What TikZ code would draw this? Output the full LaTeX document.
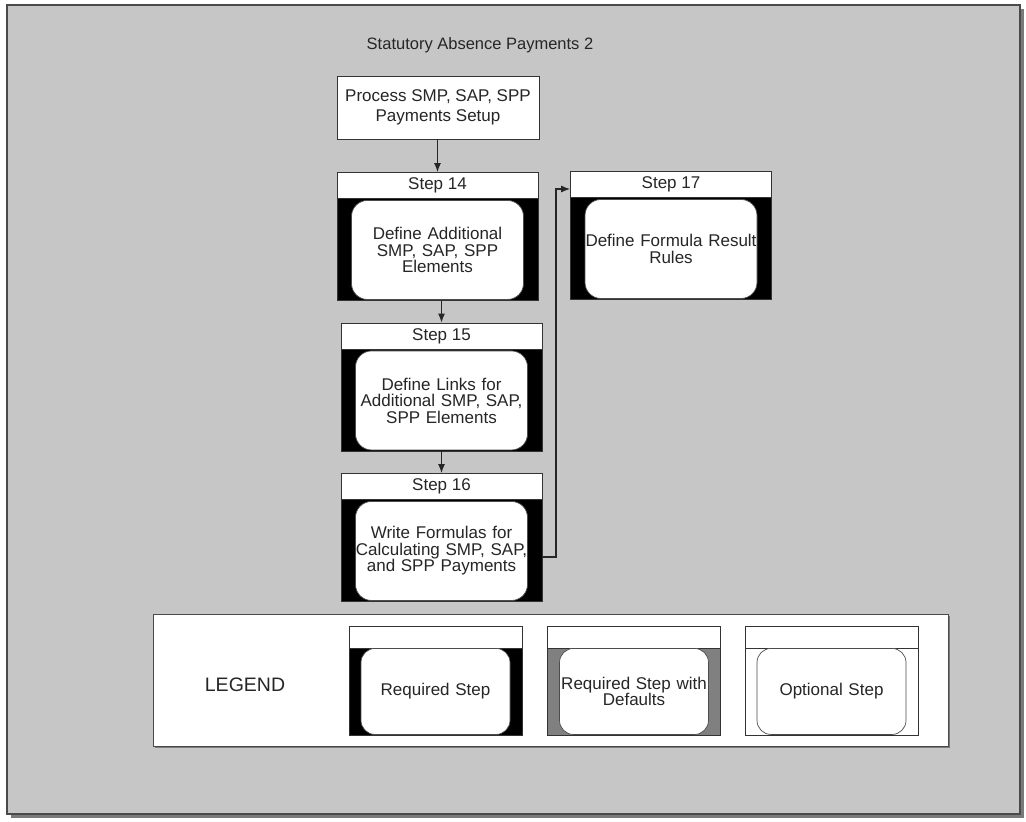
\documentclass[tikz,border=0pt]{standalone}
\usepackage{fontspec}
\setmainfont{Liberation Sans}
\usetikzlibrary{arrows.meta}
\definecolor{panel}{HTML}{C6C6C6}
\definecolor{shadowc}{HTML}{7A7A7A}
\definecolor{framec}{HTML}{4A4A4A}
\definecolor{defgray}{HTML}{808080}
\tikzset{
  txt/.style={font=\fontsize{17}{16.5}\selectfont, text=black!85},
  outerbox/.style={draw=black!80, line width=0.8pt, inner sep=0pt},
  headbox/.style={draw=black!80, fill=white, line width=0.8pt, inner sep=0pt, txt},
  bodybox/.style={draw=black!70, fill=white, rounded corners=16pt, line width=0.7pt, inner sep=0pt, align=center, txt},
  main/.style={minimum width=201pt, minimum height=128pt},
  mainhead/.style={minimum width=201pt, minimum height=26pt},
  mainbody/.style={minimum width=172pt, minimum height=99pt, text width=172pt},
  leg/.style={minimum width=173pt, minimum height=109pt},
  leghead/.style={minimum width=173pt, minimum height=22pt},
  legbody/.style={minimum width=149pt, minimum height=86pt, text width=149pt, rounded corners=14pt},
  arr/.style={-{Latex[length=9pt,width=7pt]}, line width=1.1pt, draw=black!85},
}
\newcommand\mystep[7]{%
  \node[outerbox,#6,fill=#3,anchor=north] (#1) at #2 {};
  \node[headbox,#6head,anchor=north] (#1h) at (#1.north) {#4};
  \node[bodybox,#6body,anchor=south] (#1b) at ([yshift=1pt]#1.south) {#5};
  #7
}
\begin{document}
\begin{tikzpicture}[x=1pt,y=-1pt]
\useasboundingbox (0,0) rectangle (1026,822);
% frame
\fill[shadowc] (11,9) rectangle (1024,818);
\draw[fill=panel, draw=framec, line width=1.5pt] (7,5) rectangle (1020,814);
\node[font=\fontsize{16.5}{18}\selectfont, text=black!85] (title) at (480,45) {Statutory Absence Payments 2};
% process box
\node[draw=black!80, fill=white, line width=0.8pt, minimum width=202pt, minimum height=63pt, align=center, txt, inner sep=0pt] (proc) at (438,107.5) {Process SMP, SAP, SPP\\[3.5pt]Payments Setup};
% steps
\mystep{s14}{(437.5,172)}{black}{Step 14}{Define Additional\\SMP, SAP, SPP\\Elements}{main}{}
\mystep{s15}{(441.5,322.5)}{black}{Step 15}{Define Links for\\Additional SMP, SAP,\\SPP Elements}{main}{}
\mystep{s16}{(441.5,473)}{black}{Step 16}{Write Formulas for\\Calculating SMP, SAP,\\and SPP Payments}{main}{}
\mystep{s17}{(671,171)}{black}{Step 17}{Define Formula Result\\Rules}{main}{}
% connectors
\draw[arr] (proc.south -| s14.north) -- (s14.north);
\draw[arr] (s14.south -| s15.north) -- (s15.north);
\draw[arr] (s15.south) -- (s16.north);
\coordinate (c16) at (556,557);
\draw[arr] (s16.east |- c16) -- (c16) |- ([yshift=-18pt]s17.north west);
% legend
\fill[shadowc] (155,616) rectangle (950,748);
\draw[fill=white, draw=framec, line width=1pt] (153,614) rectangle (948,746);
\node[font=\fontsize{19.5}{20}\selectfont, text=black!85] (legend) at (245,685) {LEGEND};
\mystep{l1}{(435.5,626)}{black}{}{Required Step}{leg}{}
\mystep{l2}{(634,626)}{defgray}{}{Required Step with\\Defaults}{leg}{}
\mystep{l3}{(831.5,626)}{white}{}{Optional Step}{leg}{}
\end{tikzpicture}
\end{document}
